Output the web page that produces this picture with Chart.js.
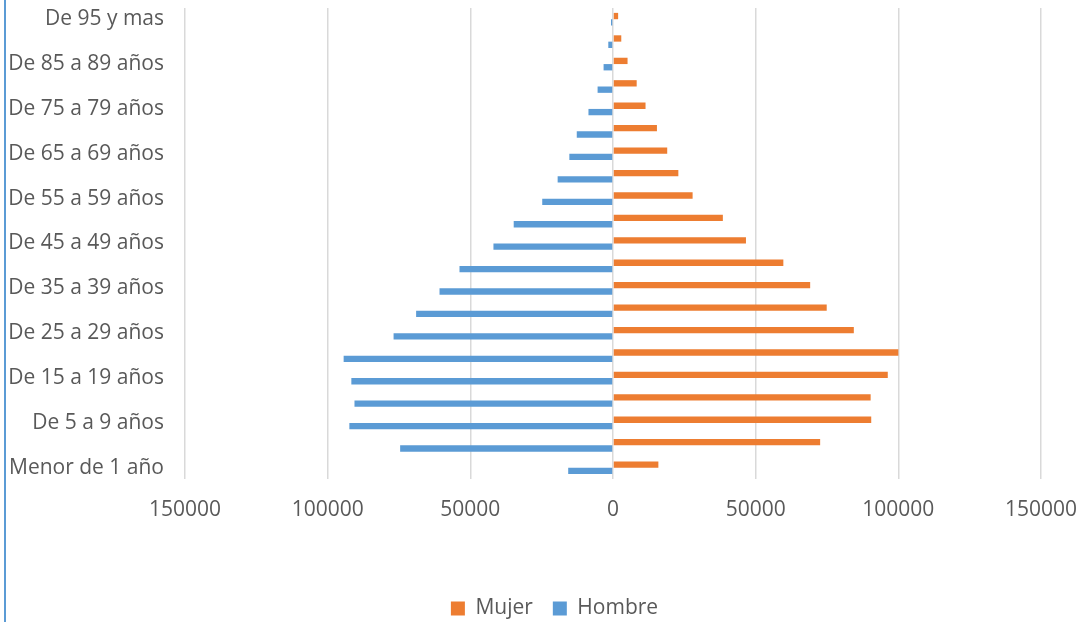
<!DOCTYPE html>
<html lang="es">
<head>
  <meta charset="UTF-8" />
  <title>Pirámide de población</title>
  <script src="https://cdn.jsdelivr.net/npm/chart.js"></script>
  <style>
    body {
      margin: 0;
      background: #ffffff;
    }
    #wrap {
      position: relative;
      width: 1083px;
      height: 622px;
    }
    #edge {
      position: absolute;
      left: 4px;
      top: 0;
      width: 2px;
      height: 622px;
      background: #5b9bd5;
    }
  </style>
</head>
<body>

<div id="wrap">
  <canvas id="pyramid"></canvas>
  <div id="edge"></div>
</div>

<script>
  const grupos = [
    'Menor de 1 año', 'De 1 a 4 años', 'De 5 a 9 años', 'De 10 a 14 años',
    'De 15 a 19 años', 'De 20 a 24 años', 'De 25 a 29 años', 'De 30 a 34 años',
    'De 35 a 39 años', 'De 40 a 44 años', 'De 45 a 49 años', 'De 50 a 54 años',
    'De 55 a 59 años', 'De 60 a 64 años', 'De 65 a 69 años', 'De 70 a 74 años',
    'De 75 a 79 años', 'De 80 a 84 años', 'De 85 a 89 años', 'De 90 a 94 años',
    'De 95 y mas'
  ];
  const mujer = [15900, 72600, 90500, 90300, 96300, 100000, 84400, 74900, 69100, 59700,
    46600, 38500, 27900, 22900, 19000, 15400, 11400, 8300, 5100, 2900, 1800];
  const hombre = [15700, 74600, 92400, 90600, 91700, 94400, 76900, 69000, 60800, 53800,
    41900, 34800, 24800, 19400, 15300, 12700, 8600, 5400, 3300, 1650, 700];
  const xMin = -150000, xMax = 150000, xStep = 50000;

  const textColor = '#595959';
  const font = { family: 'Open Sans', size: 21 };

  // nudge the legend so it sits where the original one is
  const legendShift = {
    id: 'legendShift',
    afterLayout(chart) {
      const lg = chart.legend;
      lg.left += 34; lg.right += 34;
      lg.top += 7; lg.bottom += 7;
    }
  };

  const ctx = document.getElementById('pyramid').getContext('2d');
  new Chart(ctx, {
    type: 'bar',
    data: {
      labels: grupos,
      datasets: [
        { label: 'Mujer', data: mujer, backgroundColor: '#ed7d31' },
        { label: 'Hombre', data: hombre.map(v => -v), backgroundColor: '#5b9bd5' }
      ]
    },
    plugins: [legendShift],
    options: {
      indexAxis: 'y',
      responsive: true,
      maintainAspectRatio: false,
      animation: false,
      categoryPercentage: 0.565,
      barPercentage: 1,
      layout: { padding: { top: 8, right: 42, bottom: 0, left: 0 } },
      plugins: {
        tooltip: { enabled: false },
        legend: {
          position: 'bottom',
          labels: {
            color: textColor,
            font: font,
            boxWidth: 14,
            boxHeight: 14,
            padding: 20
          }
        }
      },
      scales: {
        x: {
          min: xMin,
          max: xMax,
          grid: { color: '#d9d9d9', lineWidth: 1.5, drawTicks: false },
          border: { display: false },
          ticks: {
            stepSize: xStep,
            padding: 18,
            color: textColor,
            font: font,
            callback: v => Math.abs(v)
          },
          afterFit: s => { s.height = 92; s.paddingLeft = 0; s.paddingRight = 0; }
        },
        y: {
          reverse: true,
          grid: { display: false, drawTicks: false },
          border: { display: false },
          ticks: {
            autoSkip: false,
            padding: 21,
            color: textColor,
            font: font,
            callback: function (v, i) { return i % 2 === 0 ? this.getLabelForValue(v) : ''; }
          },
          afterFit: s => { s.width = 185; s.paddingTop = 0; s.paddingBottom = 0; }
        }
      }
    }
  });
</script>

</body>
</html>
